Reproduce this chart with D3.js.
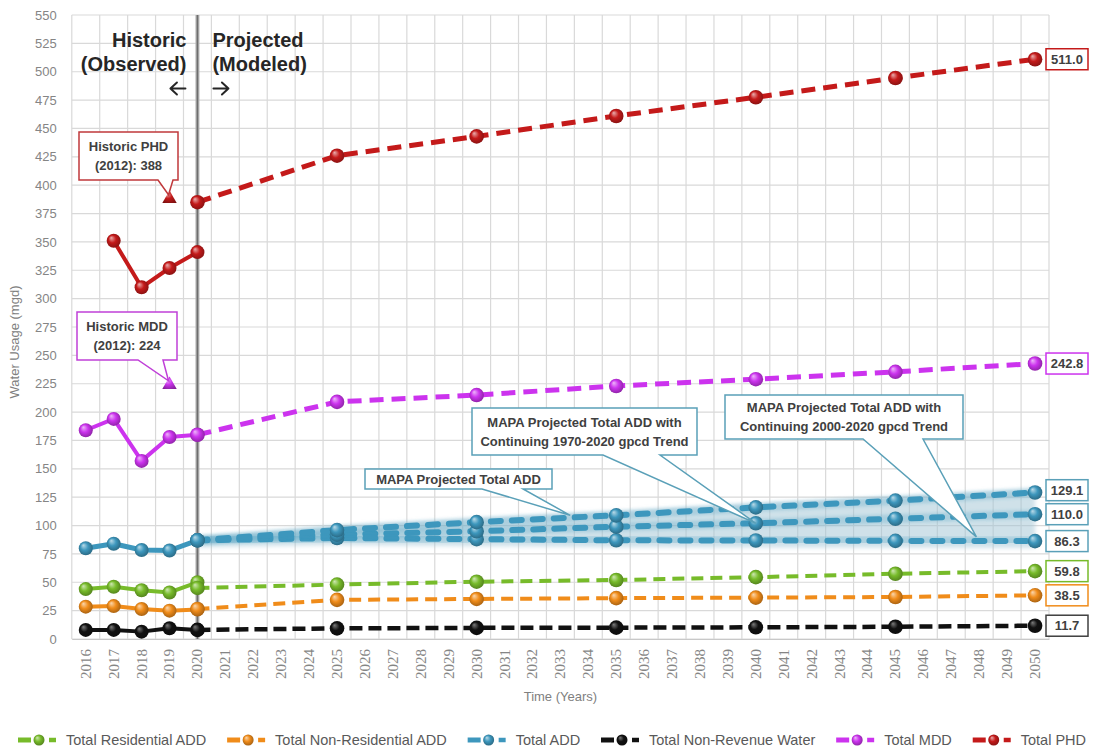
<!DOCTYPE html>
<html>
<head>
<meta charset="utf-8">
<script src="https://cdn.jsdelivr.net/npm/d3@7"></script>
<style>
  body { margin: 0; background: #fff; }
  svg { display: block; }
</style>
</head>
<body>
<svg id="chart" width="1093" height="750"></svg>
<script>
// ---- Data -------------------------------------------------------------
const yearLabels = ["2016","2017","2018","2019","2020","2021","2022","2023","2024","2025",
  "2026","2027","2028","2029","2030","2031","2032","2033","2034","2035","2036","2037",
  "2038","2039","2040","2041","2042","2043","2044","2045","2046","2047","2048","2049","2050"];
const yTicks = [0,25,50,75,100,125,150,175,200,225,250,275,300,325,350,375,400,425,450,475,500,525,550];

const histYears = [2016, 2017, 2018, 2019, 2020];
const phdHistYears = [2017, 2018, 2019, 2020];
const projYears = [2020, 2025, 2030, 2035, 2040, 2045, 2050];

// Historic (observed) values, mgd
const resHist    = [44, 46, 43, 41, 50];
const nonResHist = [28.5, 29, 26.5, 25, 26];
const addHist    = [80, 84, 78.5, 78, 87];
const nrwHist    = [8, 8, 6.5, 9.5, 8];
const mddHist    = [184, 194, 157, 178, 180];
const phdHist    = [351, 310, 327, 341];

// Projected (modeled) values, mgd
const resProj     = [45, 48, 50.5, 52, 54.5, 57.5, 59.8];
const nonResProj  = [26.5, 34.5, 35.3, 36, 36.5, 37, 38.5];
const addProj     = [87, 89, 88, 87, 86.8, 86.5, 86.3];
const add1970Proj = [87, 92, 95, 99, 102, 106, 110.0];
const add2000Proj = [87, 96, 103, 109, 116, 122, 129.1];
const nrwProj     = [8, 9.4, 9.8, 10, 10.3, 10.8, 11.7];
const mddProj     = [180, 209, 215, 223, 229, 235.5, 242.8];
const phdProj     = [385, 426, 443, 461, 477.5, 494.5, 511.0];

// 2012 historic peaks
const historicPHD = 388;
const historicMDD = 224;

const legendNames = ["Total Residential ADD", "Total Non-Residential ADD", "Total ADD",
  "Total Non-Revenue Water", "Total MDD", "Total PHD"];

// ---- Setup ------------------------------------------------------------
const SANS = "'Liberation Sans', Arial, sans-serif";
const SERIF = "'Liberation Serif', 'DejaVu Serif', serif";
const plot = { left: 71.8, right: 1049, top: 15, bottom: 639 };

const colors = {
  res: "#77bb2a", nonres: "#f08c1a", add: "#3d97bd",
  nrw: "#111111", mdd: "#cc33ee", phd: "#c41a1a"
};

const svg = d3.select("#chart");
const defs = svg.append("defs");

const x = d3.scaleBand().domain(yearLabels).range([plot.left, plot.right]).padding(0);
const bw = x.bandwidth();
const cx = yr => x(String(yr)) + bw / 2;
const xf = yr => x("2016") + bw / 2 + (yr - 2016) * bw;   // fractional year position
const y = d3.scaleLinear().domain([0, 550]).range([plot.bottom, plot.top]);

// glossy sphere gradients
Object.entries(colors).forEach(([k, c]) => {
  const g = defs.append("radialGradient").attr("id", "ball-" + k)
    .attr("cx", "50%").attr("cy", "50%").attr("r", "60%").attr("fx", "32%").attr("fy", "28%");
  g.append("stop").attr("offset", "0%").attr("stop-color", d3.interpolateRgb(c, "#ffffff")(k === "nrw" ? 0.45 : 0.65));
  g.append("stop").attr("offset", "45%").attr("stop-color", c);
  g.append("stop").attr("offset", "100%").attr("stop-color", d3.color(c).darker(1.3));
});
const blur = defs.append("filter").attr("id", "soft").attr("x", "-10%").attr("y", "-50%").attr("width", "120%").attr("height", "200%");
blur.append("feGaussianBlur").attr("stdDeviation", 2);
const blurSmall = defs.append("filter").attr("id", "glow").attr("x", "-5%").attr("y", "-50%").attr("width", "110%").attr("height", "200%");
blurSmall.append("feGaussianBlur").attr("stdDeviation", 1.5);

// ---- Grid -------------------------------------------------------------
const grid = svg.append("g");
grid.selectAll("line.h").data(yTicks).join("line")
  .attr("x1", plot.left).attr("x2", plot.right)
  .attr("y1", d => y(d)).attr("y2", d => y(d))
  .attr("stroke", "#d9d9d9").attr("stroke-width", 1.2);
grid.selectAll("line.v").data(yearLabels.map(d => x(d)).concat([plot.right])).join("line")
  .attr("x1", d => d).attr("x2", d => d)
  .attr("y1", plot.top).attr("y2", plot.bottom)
  .attr("stroke", "#d9d9d9").attr("stroke-width", 1.2);

// ---- Axes -------------------------------------------------------------
const yAxis = svg.append("g").attr("transform", `translate(${plot.left},0)`)
  .call(d3.axisLeft(y).tickValues(yTicks).tickSize(0).tickPadding(15));
yAxis.select(".domain").remove();
yAxis.attr("font-family", SANS).attr("font-size", 13);
yAxis.selectAll("text").attr("fill", "#858585");

const xAxis = svg.append("g").attr("transform", `translate(0,${plot.bottom})`)
  .call(d3.axisBottom(x).tickSize(0).tickPadding(0));
xAxis.select(".domain").attr("stroke", "#c8c8c8").attr("stroke-width", 1.2);
xAxis.attr("font-family", SERIF).attr("font-size", 15);
xAxis.selectAll("text")
  .attr("transform", "rotate(-90)")
  .attr("x", -10).attr("y", 0).attr("dy", "0.33em")
  .attr("text-anchor", "end").attr("fill", "#858585");

svg.append("text").attr("transform", `translate(19,${(plot.top + plot.bottom) / 2 + 15}) rotate(-90)`)
  .attr("text-anchor", "middle").attr("font-family", SANS).attr("font-size", 13).attr("fill", "#808080")
  .text("Water Usage (mgd)");
svg.append("text").attr("x", (plot.left + plot.right) / 2).attr("y", 701)
  .attr("text-anchor", "middle").attr("font-family", SANS).attr("font-size", 13).attr("fill", "#808080")
  .text("Time (Years)");

// ---- Historic / projected divider ---------------------------------------
svg.append("line").attr("x1", cx(2020)).attr("x2", cx(2020)).attr("y1", plot.top).attr("y2", plot.bottom)
  .attr("stroke", "#b5b5b5").attr("stroke-width", 4);
svg.append("line").attr("x1", cx(2020)).attr("x2", cx(2020)).attr("y1", plot.top).attr("y2", plot.bottom)
  .attr("stroke", "#6e6e6e").attr("stroke-width", 1.6);

const hdr = svg.append("g").attr("font-family", SANS).attr("font-weight", "bold").attr("font-size", 20).attr("fill", "#262626");
hdr.append("text").attr("x", cx(2020) - 11).attr("y", 47).attr("text-anchor", "end").text("Historic");
hdr.append("text").attr("x", cx(2020) - 11).attr("y", 71).attr("text-anchor", "end").text("(Observed)");
hdr.append("text").attr("x", cx(2020) + 15).attr("y", 47).text("Projected");
hdr.append("text").attr("x", cx(2020) + 15).attr("y", 71).text("(Modeled)");

// direction arrows under the headings
const arrow = (x0, x1, yy) => {
  const dir = Math.sign(x1 - x0);
  const p = d3.path();
  p.moveTo(x0, yy); p.lineTo(x1, yy);
  p.moveTo(x1 - dir * 6.5, yy - 6); p.lineTo(x1, yy); p.lineTo(x1 - dir * 6.5, yy + 6);
  hdr.append("path").attr("d", p.toString()).attr("fill", "none").attr("stroke", "#262626")
    .attr("stroke-width", 2).attr("stroke-linecap", "round").attr("stroke-linejoin", "round");
};
arrow(cx(2020) - 12, cx(2020) - 27, 88.5);
arrow(cx(2020) + 16, cx(2020) + 31, 88.5);

// ---- Series -------------------------------------------------------------
const line = d3.line().x(d => cx(d[0])).y(d => y(d[1]));

function markers(g, pts, key, r) {
  g.selectAll(null).data(pts).join("circle")
    .attr("cx", d => cx(d[0])).attr("cy", d => y(d[1])).attr("r", r)
    .attr("fill", `url(#ball-${key})`);
}

function drawSeries(key, hYears, hVals, projSets, opt) {
  const g = svg.append("g");
  const c = colors[key];
  const hist = d3.zip(hYears, hVals);
  g.append("path").attr("d", line(hist)).attr("fill", "none").attr("stroke", c)
    .attr("stroke-width", opt.hw).attr("stroke-linejoin", "round");
  projSets.forEach(p => {
    const proj = d3.zip(projYears, p);
    if (opt.glow) {
      g.append("path").attr("d", line(proj)).attr("fill", "none").attr("stroke", c)
        .attr("stroke-opacity", 0.25).attr("stroke-width", opt.pw + 3).attr("filter", "url(#glow)");
    }
    g.append("path").attr("d", line(proj)).attr("fill", "none").attr("stroke", c)
      .attr("stroke-width", opt.pw).attr("stroke-dasharray", opt.dash)
      .attr("stroke-linecap", opt.cap || "butt");
  });
  markers(g, hist, key, 7);
  projSets.forEach(p => markers(g, d3.zip(projYears, p), key, 7.3));
}

// shaded range between the Total ADD projections
const band = d3.area().x(d => cx(d[0])).y0(d => y(d[1]) + 7).y1(d => y(d[2]) - 4);
svg.append("path")
  .attr("d", band(d3.zip(projYears, addProj, add2000Proj)))
  .attr("fill", "#9fc3d3").attr("fill-opacity", 0.5).attr("filter", "url(#soft)");

drawSeries("nrw", histYears, nrwHist, [nrwProj], { hw: 4, pw: 4.5, dash: "13,6" });
drawSeries("nonres", histYears, nonResHist, [nonResProj], { hw: 4, pw: 4, dash: "12,7" });
drawSeries("res", histYears, resHist, [resProj], { hw: 4, pw: 4, dash: "12,7" });
drawSeries("add", histYears, addHist, [addProj, add1970Proj, add2000Proj],
  { hw: 5, pw: 6, dash: "10,11", cap: "round", glow: true });
drawSeries("mdd", histYears, mddHist, [mddProj], { hw: 4, pw: 5, dash: "14,8" });
drawSeries("phd", phdHistYears, phdHist, [phdProj], { hw: 4, pw: 5, dash: "14,8" });

// 2012 historic peak markers
const tri = d3.symbol(d3.symbolTriangle).size(90);
svg.append("path").attr("d", tri()).attr("transform", `translate(${cx(2019)},${y(historicPHD)})`).attr("fill", "url(#ball-phd)");
svg.append("path").attr("d", tri()).attr("transform", `translate(${cx(2019)},${y(historicMDD)})`).attr("fill", "url(#ball-mdd)");

// ---- End-of-series value labels -----------------------------------------
const endLabels = [
  { v: phdProj[6], key: "phd" }, { v: mddProj[6], key: "mdd" },
  { v: add2000Proj[6], key: "add" }, { v: add1970Proj[6], key: "add" }, { v: addProj[6], key: "add" },
  { v: resProj[6], key: "res" }, { v: nonResProj[6], key: "nonres" }, { v: nrwProj[6], key: "nrw" }
];
endLabels.forEach(d => d.py = y(d.v));
for (let i = endLabels.length - 2; i >= 0; i--) {
  if (endLabels[i + 1].py - endLabels[i].py < 24) endLabels[i].py = endLabels[i + 1].py - 24;
}
const fmt = d3.format(".1f");
const lab = svg.append("g").selectAll("g").data(endLabels).join("g")
  .attr("transform", d => `translate(1046,${d.py})`);
lab.append("rect").attr("x", 0).attr("y", -10.5).attr("width", 42).attr("height", 21)
  .attr("fill", "#fff").attr("stroke", d => d.key === "nrw" ? "#404040" : d.key === "add" ? "#5aa0b8" : colors[d.key])
  .attr("stroke-width", 1.5);
lab.append("text").attr("x", 21).attr("y", 0).attr("dy", "0.36em").attr("text-anchor", "middle")
  .attr("font-family", SANS).attr("font-weight", "bold").attr("font-size", 13).attr("fill", "#404040")
  .text(d => fmt(d.v));

// ---- Callouts -------------------------------------------------------------
function callout(box, base, tip, stroke, lines) {
  const g = svg.append("g");
  const p = d3.path();
  p.moveTo(box.x0, box.y0); p.lineTo(box.x1, box.y0); p.lineTo(box.x1, box.y1);
  p.lineTo(base[1], box.y1); p.lineTo(tip[0], tip[1]); p.lineTo(base[0], box.y1);
  p.lineTo(box.x0, box.y1); p.closePath();
  g.append("path").attr("d", p.toString()).attr("fill", "#fff").attr("stroke", stroke).attr("stroke-width", 1.5);
  const mid = (box.y0 + box.y1) / 2, lh = 19;
  g.selectAll("text").data(lines).join("text")
    .attr("x", (box.x0 + box.x1) / 2)
    .attr("y", (d, i) => mid + (i - (lines.length - 1) / 2) * lh)
    .attr("dy", "0.36em").attr("text-anchor", "middle")
    .attr("font-family", SANS).attr("font-weight", "bold").attr("font-size", 13).attr("fill", "#404040")
    .text(d => d);
}

callout({ x0: 79, y0: 132, x1: 178, y1: 180 }, [158, 173], [cx(2019) - 1, y(historicPHD) - 4], "#c0393b",
  ["Historic PHD", "(2012): 388"]);
callout({ x0: 77, y0: 312, x1: 177, y1: 360 }, [138, 163], [cx(2019) - 1, y(historicMDD) - 4], "#c040d8",
  ["Historic MDD", "(2012): 224"]);
callout({ x0: 365, y0: 469, x1: 552, y1: 489 }, [482, 523], [xf(2033.35), y(109)], "#5aa0b8",
  ["MAPA Projected Total ADD"]);
callout({ x0: 472, y0: 408, x1: 697, y1: 455 }, [603, 660], [cx(2040), y(add1970Proj[4])], "#5aa0b8",
  ["MAPA Projected Total ADD with", "Continuing 1970-2020 gpcd Trend"]);
callout({ x0: 725, y0: 395, x1: 963, y1: 439 }, [863, 923], [xf(2047.9), y(90)], "#5aa0b8",
  ["MAPA Projected Total ADD with", "Continuing 2000-2020 gpcd Trend"]);

// ---- Legend ---------------------------------------------------------------
// items are spread so the row runs from x=18 to x=1086
const legendKeys = ["res", "nonres", "add", "nrw", "mdd", "phd"];
const legend = svg.append("g").attr("transform", "translate(0,740)");
const legendStart = 18, legendEnd = 1086, symW = 48;
const items = legendKeys.map((k, i) => {
  const g = legend.append("g");
  const c = colors[k];
  g.append("line").attr("x1", 0).attr("x2", 13).attr("stroke", c).attr("stroke-width", 5);
  g.append("circle").attr("cx", 21).attr("r", 5.5).attr("fill", `url(#ball-${k})`);
  g.append("line").attr("x1", 31).attr("x2", 38).attr("stroke", c).attr("stroke-width", 4.5);
  const t = g.append("text").attr("x", symW).attr("dy", "0.36em")
    .attr("font-family", SANS).attr("font-size", 14.5).attr("fill", "#595959").text(legendNames[i]);
  return { g, w: symW + t.node().getComputedTextLength() };
});
const legendGap = (legendEnd - legendStart - d3.sum(items, d => d.w)) / (items.length - 1);
let lx = legendStart;
items.forEach(it => { it.g.attr("transform", `translate(${lx},0)`); lx += it.w + legendGap; });
</script>
</body>
</html>
